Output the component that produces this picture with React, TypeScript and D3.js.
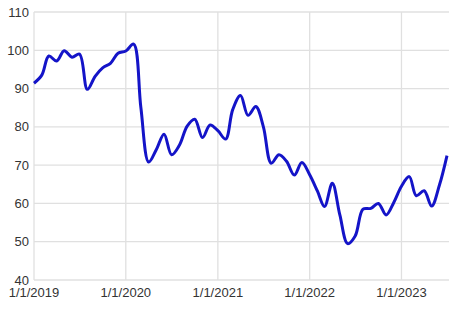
import React, { useEffect, useRef } from 'react';
import * as d3 from 'd3';

// monthly values, Jan 2019 .. Jul 2023
const startMonth = '2019-01-01';
const values = [
  91.4, 93.5, 98.5, 97.2, 99.9, 98.2, 99, 89.8, 93.2, 95.4, 96.6, 99.2,
  99.8, 101.6, 85, 70.8, 74, 78.1, 72.7, 75.2, 80.2, 82, 77.2, 80.5,
  79, 76.8, 84.5, 88.2, 83, 85.3, 80, 70.5, 72.7, 71, 67.4, 70.7,
  67.5, 63.2, 59.2, 65.3, 57, 49.5, 51.5, 58.5, 58.7, 60, 57, 60.2,
  64.5, 67, 62, 63.3, 59.3, 64.8, 72.5,
];
const yTicks = [40, 50, 60, 70, 80, 90, 100, 110];
const xTickDates = ['2019-01-01', '2020-01-01', '2021-01-01', '2022-01-01', '2023-01-01'];

const App = () => {
  const ref = useRef<SVGSVGElement>(null);

  useEffect(() => {
    const width = 449;
    const height = 311;
    const margin = { top: 12, right: 1, bottom: 31, left: 34 };

    const svg = d3.select(ref.current);
    svg.selectAll('*').remove();

    const parse = d3.utcParse('%Y-%m-%d');
    const start = parse(startMonth)!;
    const data = values.map((v, i) => ({ date: d3.utcMonth.offset(start, i), value: v }));

    const x = d3.scaleUtc()
      .domain([start, data[data.length - 1].date])
      .range([margin.left, width - margin.right - 1]);

    const y = d3.scaleLinear()
      .domain([40, 110])
      .range([height - margin.bottom, margin.top]);

    const grid = svg.append('g').attr('stroke', '#e0e0e0').attr('stroke-width', 1.3);

    // horizontal grid
    grid.selectAll('.h')
      .data(yTicks)
      .enter().append('line')
      .attr('x1', margin.left)
      .attr('x2', width)
      .attr('y1', d => y(d))
      .attr('y2', d => y(d));

    // vertical grid
    grid.selectAll('.v')
      .data(xTickDates.map(d => parse(d)!))
      .enter().append('line')
      .attr('x1', d => x(d))
      .attr('x2', d => x(d))
      .attr('y1', margin.top)
      .attr('y2', y(40));

    // y labels
    svg.append('g')
      .selectAll('text')
      .data(yTicks)
      .enter().append('text')
      .attr('x', margin.left - 5)
      .attr('y', d => y(d))
      .attr('dy', '0.35em')
      .attr('text-anchor', 'end')
      .attr('font-family', 'Liberation Sans, Arial, sans-serif')
      .attr('font-size', 13)
      .attr('fill', '#333')
      .text(d => d);

    // x labels
    svg.append('g')
      .selectAll('text')
      .data(xTickDates)
      .enter().append('text')
      .attr('x', d => x(parse(d)!))
      .attr('y', y(40) + 17)
      .attr('text-anchor', 'middle')
      .attr('font-family', 'Liberation Sans, Arial, sans-serif')
      .attr('font-size', 13)
      .attr('fill', '#333')
      .text(d => {
        const dt = parse(d)!;
        return `${dt.getUTCMonth() + 1}/${dt.getUTCDate()}/${dt.getUTCFullYear()}`;
      });

    const line = d3.line<{ date: Date; value: number }>()
      .x(d => x(d.date))
      .y(d => y(d.value))
      .curve(d3.curveCatmullRom.alpha(0.5));

    svg.append('path')
      .datum(data)
      .attr('fill', 'none')
      .attr('stroke', '#1414c8')
      .attr('stroke-width', 3)
      .attr('stroke-linejoin', 'round')
      .attr('d', line);
  }, []);

  return (
    <svg ref={ref} width={449} height={311}
      style={{ position: 'absolute', left: 0, top: 0, background: '#fff' }} />
  );
};

export default App;
